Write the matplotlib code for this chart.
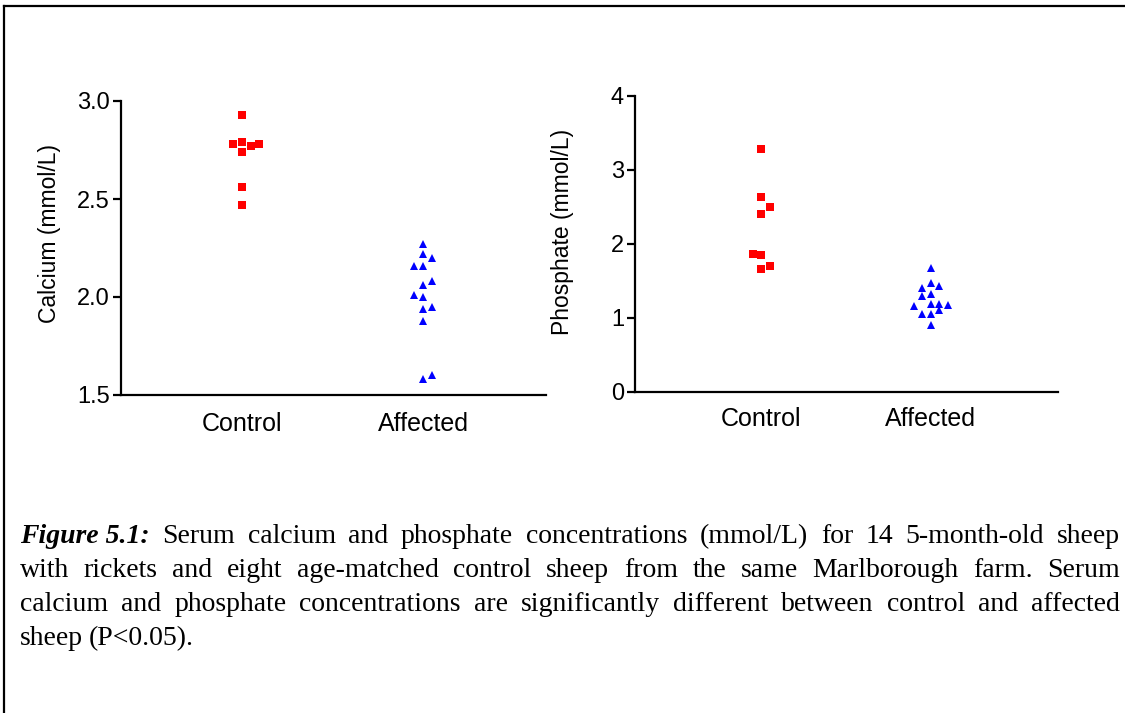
import matplotlib
matplotlib.use('Agg')
import matplotlib.pyplot as plt
from matplotlib.lines import Line2D
from matplotlib.transforms import ScaledTranslation

# data
groups = ['Control', 'Affected']

calcium_control = [2.93, 2.78, 2.79, 2.77, 2.78, 2.74, 2.56, 2.47]
calcium_affected = [2.27, 2.22, 2.20, 2.16, 2.16, 2.08, 2.06, 2.01, 2.00, 1.95,
                    1.94, 1.88, 1.60, 1.58]
phosphate_control = [3.29, 2.64, 2.50, 2.41, 1.87, 1.85, 1.66, 1.70]
phosphate_affected = [1.68, 1.47, 1.43, 1.40, 1.30, 1.33, 1.16, 1.19, 1.19, 1.18,
                      1.06, 1.05, 1.11, 0.91]

# column-scatter slot of each point (as laid out in the reference)
calcium_control_slot = [0, -1, 0, 1, 2, 0, 0, 0]
calcium_affected_slot = [0, 0, 1, -1, 0, 1, 0, -1, 0, 1, 0, 0, 1, 0]
phosphate_control_slot = [0, 0, 1, 0, -1, 0, 0, 1]
phosphate_affected_slot = [0, 0, 1, -1, -1, 0, -2, 0, 1, 2, -1, 0, 1, 0]

caption_lead = 'Figure 5.1:'
caption_lines = [
    'Serum calcium and phosphate concentrations (mmol/L) for 14 5-month-old sheep',
    'with rickets and eight age-matched control sheep from the same Marlborough farm. Serum',
    'calcium and phosphate concentrations are significantly different between control and affected',
    'sheep (P<0.05).',
]

W, H = 1125, 713
fig = plt.figure(figsize=(W / 100, H / 100), dpi=100)
fig.patch.set_facecolor('white')

sans = ['Liberation Sans', 'DejaVu Sans']


def px_axes(left, top, right, bottom):
    return fig.add_axes([left / W, 1 - bottom / H, (right - left) / W, (bottom - top) / H])


def column_scatter(ax, xpos, values, slots, marker, color, ms, step_pt):
    for s in sorted(set(slots)):
        ys = [v for v, k in zip(values, slots) if k == s]
        tr = ax.transData + ScaledTranslation(s * step_pt / 72, 0, fig.dpi_scale_trans)
        ax.plot([xpos] * len(ys), ys, linestyle='none', marker=marker, color=color,
                markersize=ms, markeredgewidth=0, transform=tr, clip_on=False)


def style_axes(ax, ylabel, ticks, ticklabels, labelpad_x, label_xy):
    for side in ['top', 'right']:
        ax.spines[side].set_visible(False)
    for side in ['left', 'bottom']:
        ax.spines[side].set_linewidth(1.6)
    ax.set_yticks(ticks)
    ax.set_yticklabels(ticklabels, fontsize=17, family=sans)
    ax.tick_params(axis='y', length=6, width=1.6, pad=2)
    ax.set_xticks([1, 2])
    ax.set_xticklabels(groups, fontsize=18, family=sans)
    ax.tick_params(axis='x', length=0, pad=labelpad_x)
    ax.set_ylabel(ylabel, fontsize=16.5, family=sans)
    ax.yaxis.set_label_coords(*label_xy)


# left panel: calcium
ax1 = px_axes(121, 101, 546, 395)
column_scatter(ax1, 1, calcium_control, calcium_control_slot, 's', '#ff0000', 6, 6.2)
column_scatter(ax1, 2, calcium_affected, calcium_affected_slot, '^', '#0000ff', 6, 6.2)
ax1.set_ylim(1.5, 3.0)
ax1.set_xlim(1 - 121 / 181, 2 + 123 / 181)
style_axes(ax1, 'Calcium (mmol/L)', [1.5, 2.0, 2.5, 3.0], ['1.5', '2.0', '2.5', '3.0'], 12,
           ((61 - 121) / 425, 0.548))

# right panel: phosphate
ax2 = px_axes(635, 96, 1058, 392)
column_scatter(ax2, 1, phosphate_control, phosphate_control_slot, 's', '#ff0000', 6, 6.1)
column_scatter(ax2, 2, phosphate_affected, phosphate_affected_slot, '^', '#0000ff', 6, 6.1)
ax2.set_ylim(0, 4)
ax2.set_xlim(1 - 126 / 169.4, 2 + 127 / 169.4)
style_axes(ax2, 'Phosphate (mmol/L)', [0, 1, 2, 3, 4], ['0', '1', '2', '3', '4'], 11,
           ((574 - 635) / 423, 0.54))

# page frame (top and left edges)
fig.add_artist(Line2D([4 / W, 4 / W], [0, 1 - 6 / H], color='black', linewidth=1.6))
fig.add_artist(Line2D([4 / W, 1], [1 - 6 / H, 1 - 6 / H], color='black', linewidth=1.6))

# justified caption
renderer = fig.canvas.get_renderer()
x0, x1 = 20, 1120
baselines = [543, 577, 611, 645]
cap_kw = dict(fontsize=20, family='Liberation Serif', va='baseline', ha='left')

for i, line in enumerate(caption_lines):
    words = line.split(' ')
    items = [(w, {}) for w in words]
    if i == 0:
        items = [(caption_lead, dict(fontweight='bold', fontstyle='italic'))] + items
    texts = []
    for w, extra in items:
        t = fig.text(0, 1 - baselines[i] / H, w, **cap_kw, **extra)
        texts.append(t)
    widths = [t.get_window_extent(renderer).width for t in texts]
    if i < len(caption_lines) - 1:
        gap = (x1 - x0 - sum(widths)) / (len(texts) - 1)
    else:
        gap = 6
    x = x0
    for t, w in zip(texts, widths):
        t.set_x(x / W)
        x += w + gap

fig.savefig('out.png', dpi=100, facecolor='white')
